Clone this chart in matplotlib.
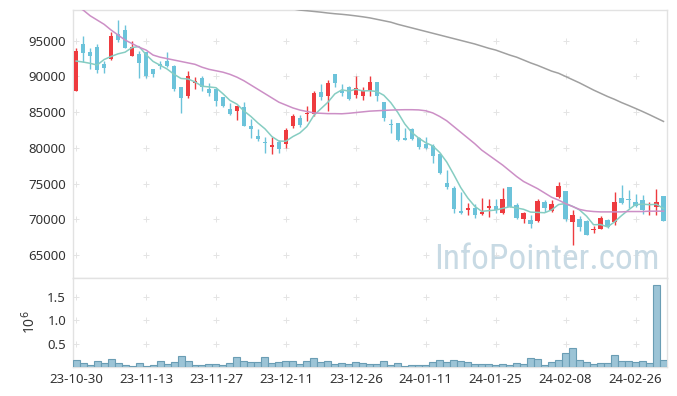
import numpy as np
import matplotlib
matplotlib.use('Agg')
import matplotlib.pyplot as plt
from matplotlib import font_manager

plt.rcParams['font.family'] = ['Noto Sans', 'DejaVu Sans']

# daily candles, 23-10-30 .. 24-03-04 (trading days)
tick_labels = ['23-10-30', '23-11-13', '23-11-27', '23-12-11', '23-12-26',
               '24-01-11', '24-01-25', '24-02-08', '24-02-26']

opens = [87900, 94500, 93400, 94100, 91700, 92400, 95900, 96500, 92900, 93100,
         93400, 91000, 91700, 92150, 91400, 88500, 87200, 89150, 89850, 88200,
         88250, 87100, 85450, 85100, 85700, 83050, 81700, 80750, 80150, 80900,
         80550, 83000, 84250, 84750, 84700, 87850, 87300, 90300, 87950, 88500,
         87400, 87300, 87950, 89200, 86450, 83400, 83550, 81400, 82600, 81350,
         80550, 80300, 79150, 75150, 74450, 71200, 71250, 71650, 70700, 71550,
         71850, 70850, 74550, 72050, 70100, 69950, 69750, 72500, 71150, 73200,
         74000, 69700, 70100, 69800, 68450, 68650, 69900, 69650, 73000, 72850,
         72500, 72750, 72000, 71750, 73300]
highs = [94000, 95700, 94000, 94550, 92150, 96250, 97900, 97200, 95000, 93500,
         93400, 91100, 92200, 93400, 91600, 88500, 90750, 89900, 90000, 89050,
         88250, 87100, 86250, 85900, 86400, 84050, 82700, 81600, 81500, 81100,
         82850, 84750, 84600, 85800, 87950, 88950, 89500, 90400, 88950, 88600,
         90000, 88500, 90000, 89200, 86450, 84000, 83550, 82750, 82750, 81500,
         81600, 80500, 79300, 76950, 74700, 73900, 72300, 72150, 73000, 72850,
         72800, 74400, 74550, 72300, 71100, 70650, 72900, 72700, 72700, 75300,
         74000, 71250, 70500, 69950, 69100, 70500, 70100, 73900, 74750, 74150,
         73500, 73450, 72500, 74250, 73300]
lows = [87900, 92050, 91100, 90450, 90550, 92250, 94850, 94000, 92900, 89850,
        89850, 89950, 91100, 91300, 88000, 84900, 87000, 88200, 88000, 87300,
        85800, 85700, 84600, 83900, 83000, 81450, 81000, 79250, 79150, 79300,
        80000, 82800, 82900, 83700, 84500, 86700, 85100, 88500, 87300, 86700,
        86950, 86700, 87300, 86600, 83700, 82050, 81000, 81100, 81100, 79900,
        79800, 77850, 76300, 74300, 70950, 70700, 70550, 70200, 70600, 70300,
        70900, 70800, 71800, 70000, 69500, 68800, 69700, 71000, 71000, 73000,
        69800, 66450, 68400, 67800, 68100, 68600, 68800, 69250, 72100, 71600,
        71700, 70750, 70650, 70650, 69800]
closes = [93500, 93300, 92900, 90900, 91250, 95650, 95150, 94050, 94150, 91950,
          90000, 90400, 91400, 91500, 88250, 87050, 90050, 89350, 88500, 87750,
          86500, 85800, 84700, 85900, 83000, 82600, 81250, 80650, 80450, 79850,
          82500, 84500, 83200, 84900, 87650, 87150, 89050, 89050, 87750, 86800,
          88350, 87950, 89200, 87200, 84150, 83200, 81100, 81150, 81250, 80150,
          80000, 78900, 76500, 74600, 71450, 70850, 71650, 70650, 71050, 71900,
          71300, 72800, 71800, 70200, 70950, 69350, 72600, 71550, 72200, 74700,
          70050, 70650, 69000, 67850, 68700, 70200, 69000, 72500, 72250, 72700,
          71900, 71300, 72150, 72500, 69800]
volumes = [152000, 80000, 36000, 123000, 80000, 167000, 80000, 36000, 15000, 80000,
           15000, 36000, 123000, 58000, 100000, 232000, 123000, 36000, 36000, 58000,
           58000, 36000, 80000, 210000, 123000, 100000, 100000, 210000, 80000, 100000,
           123000, 123000, 58000, 123000, 188000, 100000, 123000, 58000, 80000, 58000,
           100000, 80000, 58000, 58000, 123000, 36000, 80000, 15000, 36000, 36000,
           36000, 100000, 145000, 100000, 145000, 123000, 100000, 58000, 58000, 58000,
           36000, 58000, 36000, 80000, 58000, 188000, 167000, 36000, 100000, 145000,
           297000, 406000, 145000, 100000, 58000, 80000, 80000, 254000, 123000, 123000,
           100000, 123000, 80000, 1760000, 145000]
ma5 = [92160, 92020, 91840, 91600, 92370, 92800, 93170, 93400, 94050, 94190,
       93060, 92110, 91580, 91050, 90310, 89720, 89650, 89240, 88640, 88540,
       88430, 87580, 86650, 86130, 85180, 84400, 83490, 82680, 81590, 80960,
       80940, 81590, 82100, 82990, 84550, 85480, 86390, 87560, 88130, 87960,
       88200, 87980, 88010, 87900, 87370, 86340, 84970, 83360, 82170, 81370,
       80730, 80290, 79360, 78030, 76290, 74460, 73010, 71840, 71130, 71220,
       71310, 71540, 71770, 71600, 71410, 71020, 70980, 70930, 71330, 72080,
       72220, 71830, 71320, 70450, 69250, 69280, 68950, 69650, 70530, 71330,
       72070, 72130, 72060, 72110, 71530]
ma20 = [99800, 99300, 98500, 97900, 97300, 96500, 95800, 95100, 94600, 94100,
        93700, 93000, 92700, 92500, 92300, 92100, 91900, 91700, 91300, 91000,
        90800, 90600, 90300, 89900, 89400, 88800, 88200, 87600, 87000, 86400,
        86000, 85600, 85300, 85100, 84900, 84850, 84800, 84800, 84780, 84850,
        84950, 85050, 85150, 85200, 85250, 85300, 85330, 85350, 85350, 85320,
        85200, 84900, 84400, 83800, 83000, 82200, 81400, 80600, 79700, 79000,
        78300, 77600, 76800, 76000, 75300, 74800, 74300, 73700, 73100, 72700,
        72200, 71800, 71400, 71200, 71100, 71050, 71050, 71050, 71050, 71100,
        71100, 71100, 71150, 71150, 71150]
ma60 = [np.nan] * 31 + [
        99450, 99290, 99200, 99100, 99000, 98880, 98780, 98700, 98600,
        98480, 98350, 98200, 98000, 97800, 97600, 97300, 97050, 96800, 96550,
        96300, 96050, 95800, 95550, 95300, 95050, 94800, 94550, 94250, 93950,
        93700, 93350, 93000, 92700, 92300, 91900, 91550, 91150, 90750, 90450,
        90000, 89550, 89100, 88600, 88100, 87650, 87200, 86800, 86350, 85950,
        85530, 85100, 84650, 84180, 83710]

up_color = '#ee3b3f'
down_color = '#6cc3da'
grid_color = '#e4e4e4'

fig = plt.figure(figsize=(6.77, 3.96), dpi=100)
ax = fig.add_axes([0.1078, 0.298, 0.8774, 0.6767])
vax = fig.add_axes([0.1078, 0.0732, 0.8774, 0.2248], sharex=ax)

x = np.arange(len(closes))
o = np.array(opens)
c = np.array(closes)
colors = [up_color if cc >= oo else down_color for oo, cc in zip(o, c)]
body_bottom = np.minimum(o, c)
body_h = np.maximum(np.abs(c - o), 120)

# candles
ax.vlines(x, lows, highs, colors=colors, linewidth=1.0, zorder=3)
ax.bar(x, body_h, bottom=body_bottom, width=0.62, color=colors, zorder=4)

# moving averages
ax.plot(x, ma5, color='#86cdc2', linewidth=1.1, zorder=5)
ax.plot(x, ma20, color='#cc8fc6', linewidth=1.1, zorder=5)
ax.plot(x, ma60, color='#a0a0a0', linewidth=1.1, zorder=5)

ax.set_ylim(61800, 99300)
ax.set_xlim(-0.45, 84.5)
yt = [65000, 70000, 75000, 80000, 85000, 90000, 95000]
ax.set_yticks(yt)
ax.set_yticklabels([str(v) for v in yt])
ax.tick_params(axis='y', length=0, labelsize=9.5, colors='#333333', pad=5)
ax.tick_params(axis='x', length=0, labelbottom=False)

xt = np.arange(0, 85, 10)
gx, gy = np.meshgrid(xt, yt)
ax.plot(gx.ravel(), gy.ravel(), linestyle='none', marker='+', markersize=4,
        markeredgewidth=0.7, color=grid_color, zorder=1)

# watermark: a condensed face if there is one
names = {f.name for f in font_manager.fontManager.ttflist}
if 'Roboto Condensed' in names:
    wm_family, wm_size = 'Roboto Condensed', 25.5
else:
    wm_family, wm_size = 'Roboto', 22
ax.text(0.988, 0.035, 'InfoPointer.com', transform=ax.transAxes, ha='right',
        va='baseline', fontsize=wm_size, color='#c8dae4',
        family=[wm_family, 'Noto Sans'], zorder=2)

# volume
vax.bar(x, volumes, width=1.0, color='#9cc4d6', edgecolor='#6a9db4',
        linewidth=0.8, zorder=3)
vax.set_ylim(0, 1.9e6)
vt = [0.5e6, 1.0e6, 1.5e6]
vax.set_yticks(vt)
vax.set_yticklabels(['0.5', '1.0', '1.5'])
vax.set_ylabel(r'10$^6$', fontsize=10, color='#333333', labelpad=6)
vax.tick_params(axis='y', length=0, labelsize=9.5, colors='#333333', pad=5)
vax.set_xticks(xt)
vax.set_xticklabels(tick_labels)
vax.tick_params(axis='x', length=0, labelsize=9.5, colors='#333333', pad=4)
vx, vy = np.meshgrid(xt, vt)
vax.plot(vx.ravel(), vy.ravel(), linestyle='none', marker='+', markersize=4,
         markeredgewidth=0.7, color=grid_color, zorder=1)

for a in (ax, vax):
    for s in a.spines.values():
        s.set_color('#e2e2e2')
        s.set_linewidth(1.0)

plt.savefig('out.png', dpi=100)
